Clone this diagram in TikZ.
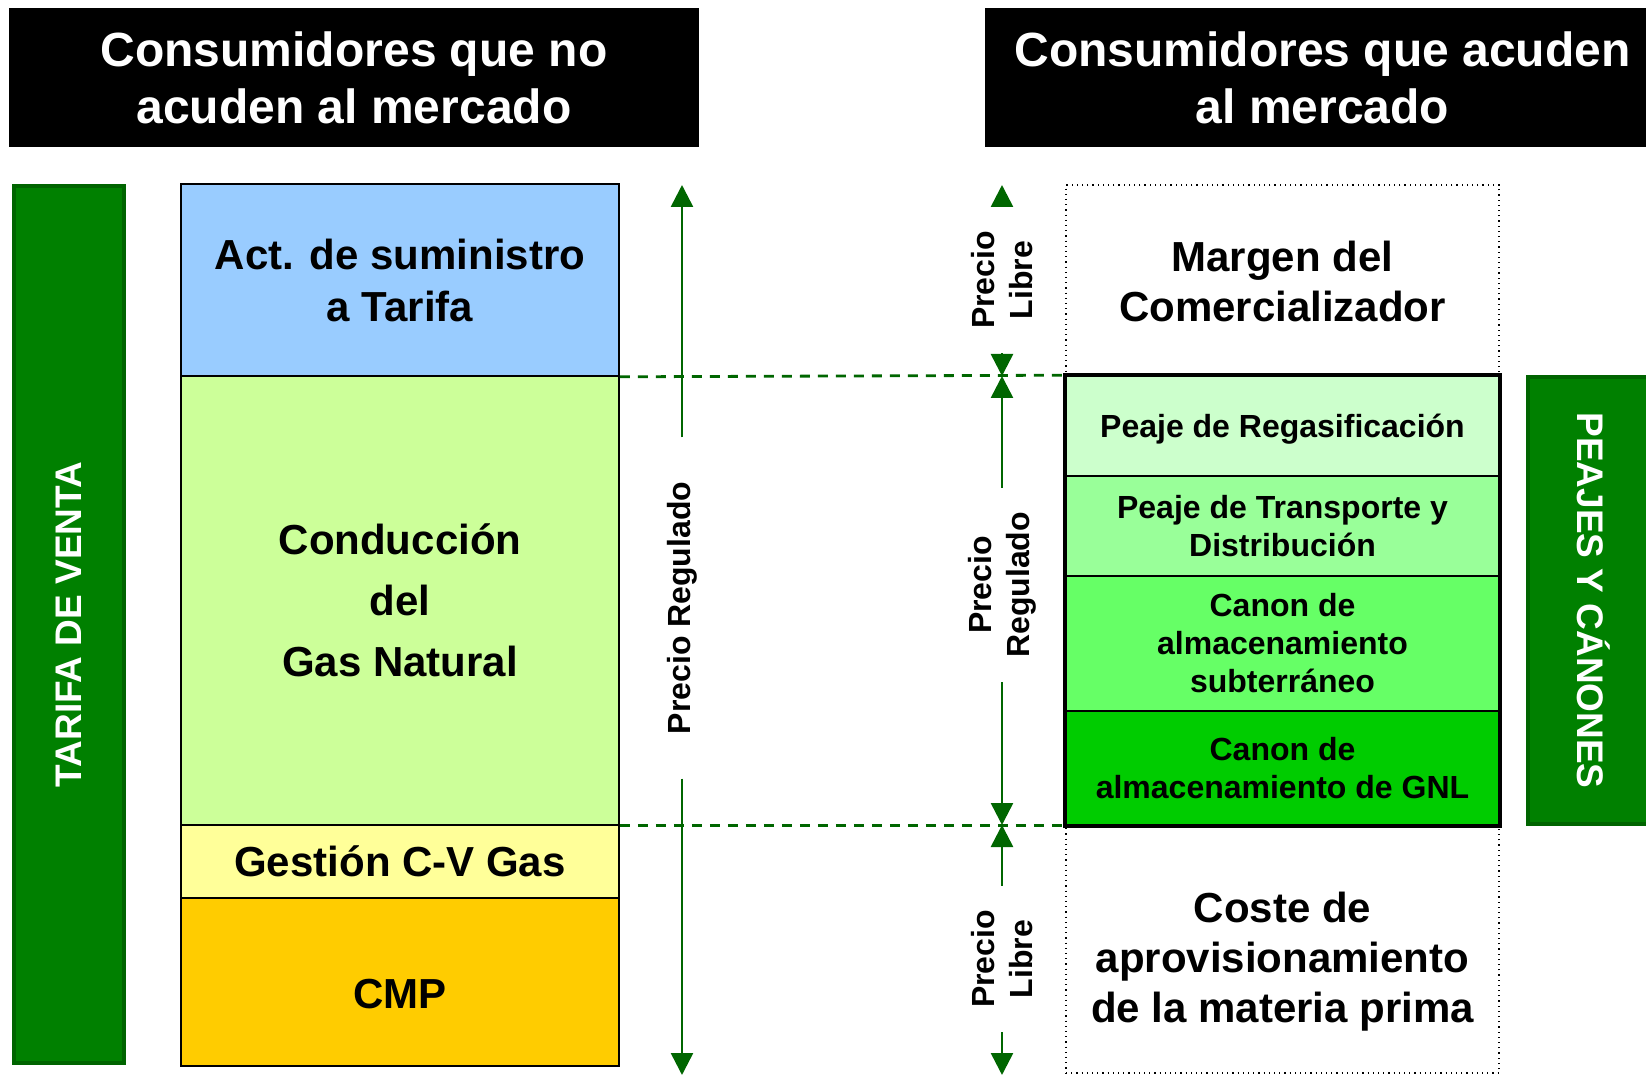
\documentclass[tikz,border=0pt]{standalone}
\usepackage{fontspec}
\setmainfont{Liberation Sans}
\usetikzlibrary{arrows.meta}
\definecolor{verde}{RGB}{0,102,0}
\definecolor{barra}{RGB}{0,128,0}
\definecolor{borde}{RGB}{0,100,0}
\definecolor{azul}{RGB}{153,204,255}
\definecolor{pistacho}{RGB}{204,255,153}
\definecolor{amarillo}{RGB}{255,255,153}
\definecolor{naranja}{RGB}{255,204,0}
\definecolor{vA}{RGB}{204,255,204}
\definecolor{vB}{RGB}{153,255,153}
\definecolor{vC}{RGB}{102,255,102}
\definecolor{vD}{RGB}{0,204,0}
\newcommand{\tam}[2]{\fontsize{#1}{#2}\selectfont}

\begin{document}
\begin{tikzpicture}[x=0.5pt,y=-0.5pt,
	cabecera/.style={fill=black,text=white,font=\tam{24}{28.5}\bfseries,align=center,minimum width=#1,minimum height=69.5pt,inner sep=0pt},
	bandera/.style={fill=barra,draw=borde,line width=2pt,text=white,font=\tam{18.5}{22}\bfseries,inner sep=0pt},
	caja/.style={draw=black,line width=0.8pt,minimum width=219pt,font=\tam{21}{26}\bfseries,align=center,inner sep=0pt},
	fila/.style={draw=black,line width=0.8pt,minimum width=216.5pt,font=\tam{16}{19}\bfseries,align=center,inner sep=0pt},
	etiq/.style={font=\tam{16}{19}\bfseries,align=center,rotate=90,inner xsep=12pt,inner ysep=2pt},
	flecha/.style={draw=verde,line width=1.3pt,-{Triangle[width=11pt,length=11pt]}},
	guia/.style={draw=verde,line width=1.4pt,dash pattern=on 5pt off 4pt}]
			\useasboundingbox (0,0) rectangle (1646,1075);
			
			\node[cabecera=345pt] (izq) at (354,77.5) {Consumidores que no\\acuden al mercado};
			\node[cabecera=337.5pt] (der) at (1322.5,77.5) {Consumidores que acuden\\al mercado};
			
			\node[bandera,rotate=90,minimum width=438.5pt,minimum height=55pt] (tarifa) at (69,624.5) {TARIFA DE VENTA};
			\node[bandera,rotate=-90,minimum width=223.5pt,minimum height=65.5pt] (peajes) at (1593.5,600.5) {PEAJES Y CÁNONES};
			
			\node[caja,fill=azul,minimum height=96pt,text depth=0pt] (act) at (400,280) {Act. de suministro\\a Tarifa};
			\node[caja,fill=pistacho,minimum height=224.5pt,font=\tam{21}{30.5}\bfseries] (cond) at (400,600.5) {Conducción\\del\\Gas Natural};
			\node[caja,fill=amarillo,minimum height=36.5pt] (gest) at (400,861.5) {Gestión C-V Gas};
			\node[caja,fill=naranja,minimum height=84pt,text height=26pt,text depth=0pt] (cmp) at (400,982) {CMP};
			
			\node[draw,dotted,line width=0.6pt,minimum width=216.5pt,minimum height=444pt] (marco) at (1282.5,629) {};
			\node[font=\tam{21}{25}\bfseries,align=center] (margen) at (1282.5,281) {Margen del\\Comercializador};
			\node[font=\tam{21}{25}\bfseries,align=center] (coste) at (1282.5,962) {Coste de\\aprovisionamiento\\de la materia prima};
			
			\node[fila,fill=vA,minimum height=50pt,text depth=0pt] (reg) at (1282.5,426) {Peaje de Regasificación};
			\node[fila,fill=vB,minimum height=50pt] (tra) at (1282.5,526) {Peaje de Transporte y\\Distribución};
			\node[fila,fill=vC,minimum height=67.5pt] (sub) at (1282.5,643.5) {Canon de\\almacenamiento\\subterráneo};
			\node[fila,fill=vD,minimum height=57pt] (gnl) at (1282.5,768) {Canon de\\almacenamiento de GNL};
			\draw[line width=2pt] (reg.north west) rectangle (gnl.south east);
			
			\draw[guia] (act.south east) -- (reg.north west);
			\draw[guia] (cond.south east) -- (gnl.south west);
			
			\coordinate (a1) at (682,185);
			\coordinate (a2) at (682,1075);
			\node[etiq,inner xsep=22pt] (pr) at (682,608) {Precio Regulado};
			\draw[flecha] (pr) -- (a1);
			\draw[flecha] (pr) -- (a2);
			
			\coordinate (b1) at (1002,185);
			\coordinate (b2) at (1002,376);
			\coordinate (b3) at (1002,825);
			\coordinate (b4) at (1002,1075);
			\node[etiq] (libre1) at (1002,280) {Precio\\Libre};
			\node[etiq] (regul) at (1002,585) {Precio\\Regulado};
			\node[etiq] (libre2) at (1002,959) {Precio\\Libre};
			\foreach \e/\p/\q in {libre1/b1/b2,regul/b2/b3,libre2/b3/b4}
			{\draw[flecha] (\e) -- (\p); \draw[flecha] (\e) -- (\q);}
\end{tikzpicture}
\end{document}
